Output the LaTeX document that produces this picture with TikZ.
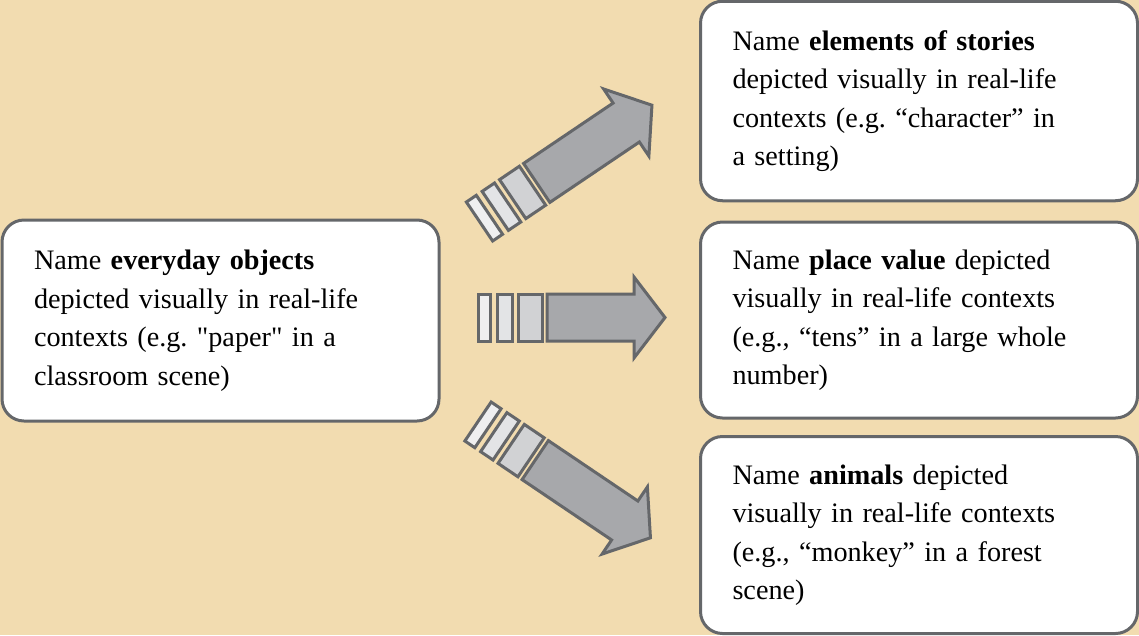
\documentclass[tikz,border=0pt]{standalone}
\usepackage{fontspec}
\setmainfont{Liberation Serif}
\newfontfamily\qfont{Liberation Serif}[Ligatures=TeXOff]
\frenchspacing
\definecolor{bgc}{HTML}{F2DCB0}
\definecolor{bordc}{HTML}{65676A}
\definecolor{sa}{HTML}{EFEFF0}
\definecolor{sb}{HTML}{E3E4E6}
\definecolor{sc}{HTML}{D1D2D4}
\definecolor{bodyc}{HTML}{A7A8AB}
\newcommand{\boxfont}{\fontsize{28.2}{38.5}\selectfont}
\newcommand{\sq}{{\qfont"}}
\tikzset{
  box/.style={draw=bordc, line width=3pt, fill=white, rounded corners=22pt,
    text width=373pt, inner xsep=32pt, inner ysep=0pt, align=left, font=\boxfont},
  arrline/.style={draw=bordc, line width=3pt, line join=miter},
  pics/stripearrow/.style={code={
    \draw[arrline, fill=sa] (0,-23.5) rectangle (12,23.5);
    \draw[arrline, fill=sb] (19,-23.5) rectangle (34,23.5);
    \draw[arrline, fill=sc] (40,-23.5) rectangle (64,23.5);
    \draw[arrline, fill=bodyc] (69,-23.5) -- (#1,-23.5) -- (#1,-40.5) -- (#1+31,0)
      -- (#1,40.5) -- (#1,23.5) -- (69,23.5) -- cycle;
  }}
}
\begin{document}
\begin{tikzpicture}[x=1pt, y=-1pt]
\useasboundingbox (0,0) rectangle (1139,635);
\fill[bgc] (0,0) rectangle (1139,635);

\node[box, minimum height=201pt] (left) at (220.5,320.5)
  {Name \textbf{everyday objects}\\depicted visually in real-life\\contexts (e.g. \sq paper\sq\ in a\\classroom scene)};
\node[box, minimum height=199.5pt] (stories) at (919,101)
  {Name \textbf{elements of stories}\\depicted visually in real-life\\contexts (e.g. “character” in\\a setting)};
\node[box, minimum height=196pt] (place) at (919,320)
  {Name \textbf{place value} depicted\\visually in real-life contexts\\(e.g., “tens” in a large whole\\number)};
\node[box, minimum height=197pt] (animals) at (919,535)
  {Name \textbf{animals} depicted\\visually in real-life contexts\\(e.g., “monkey” in a forest\\scene)};

\pic[rotate=34] (uparrow) at (479.5,221.5) {stripearrow=177};
\pic (midarrow) at (478,317.5) {stripearrow=156};
\pic[rotate=-34] (downarrow) at (478,421.5) {stripearrow=177};
\end{tikzpicture}
\end{document}
